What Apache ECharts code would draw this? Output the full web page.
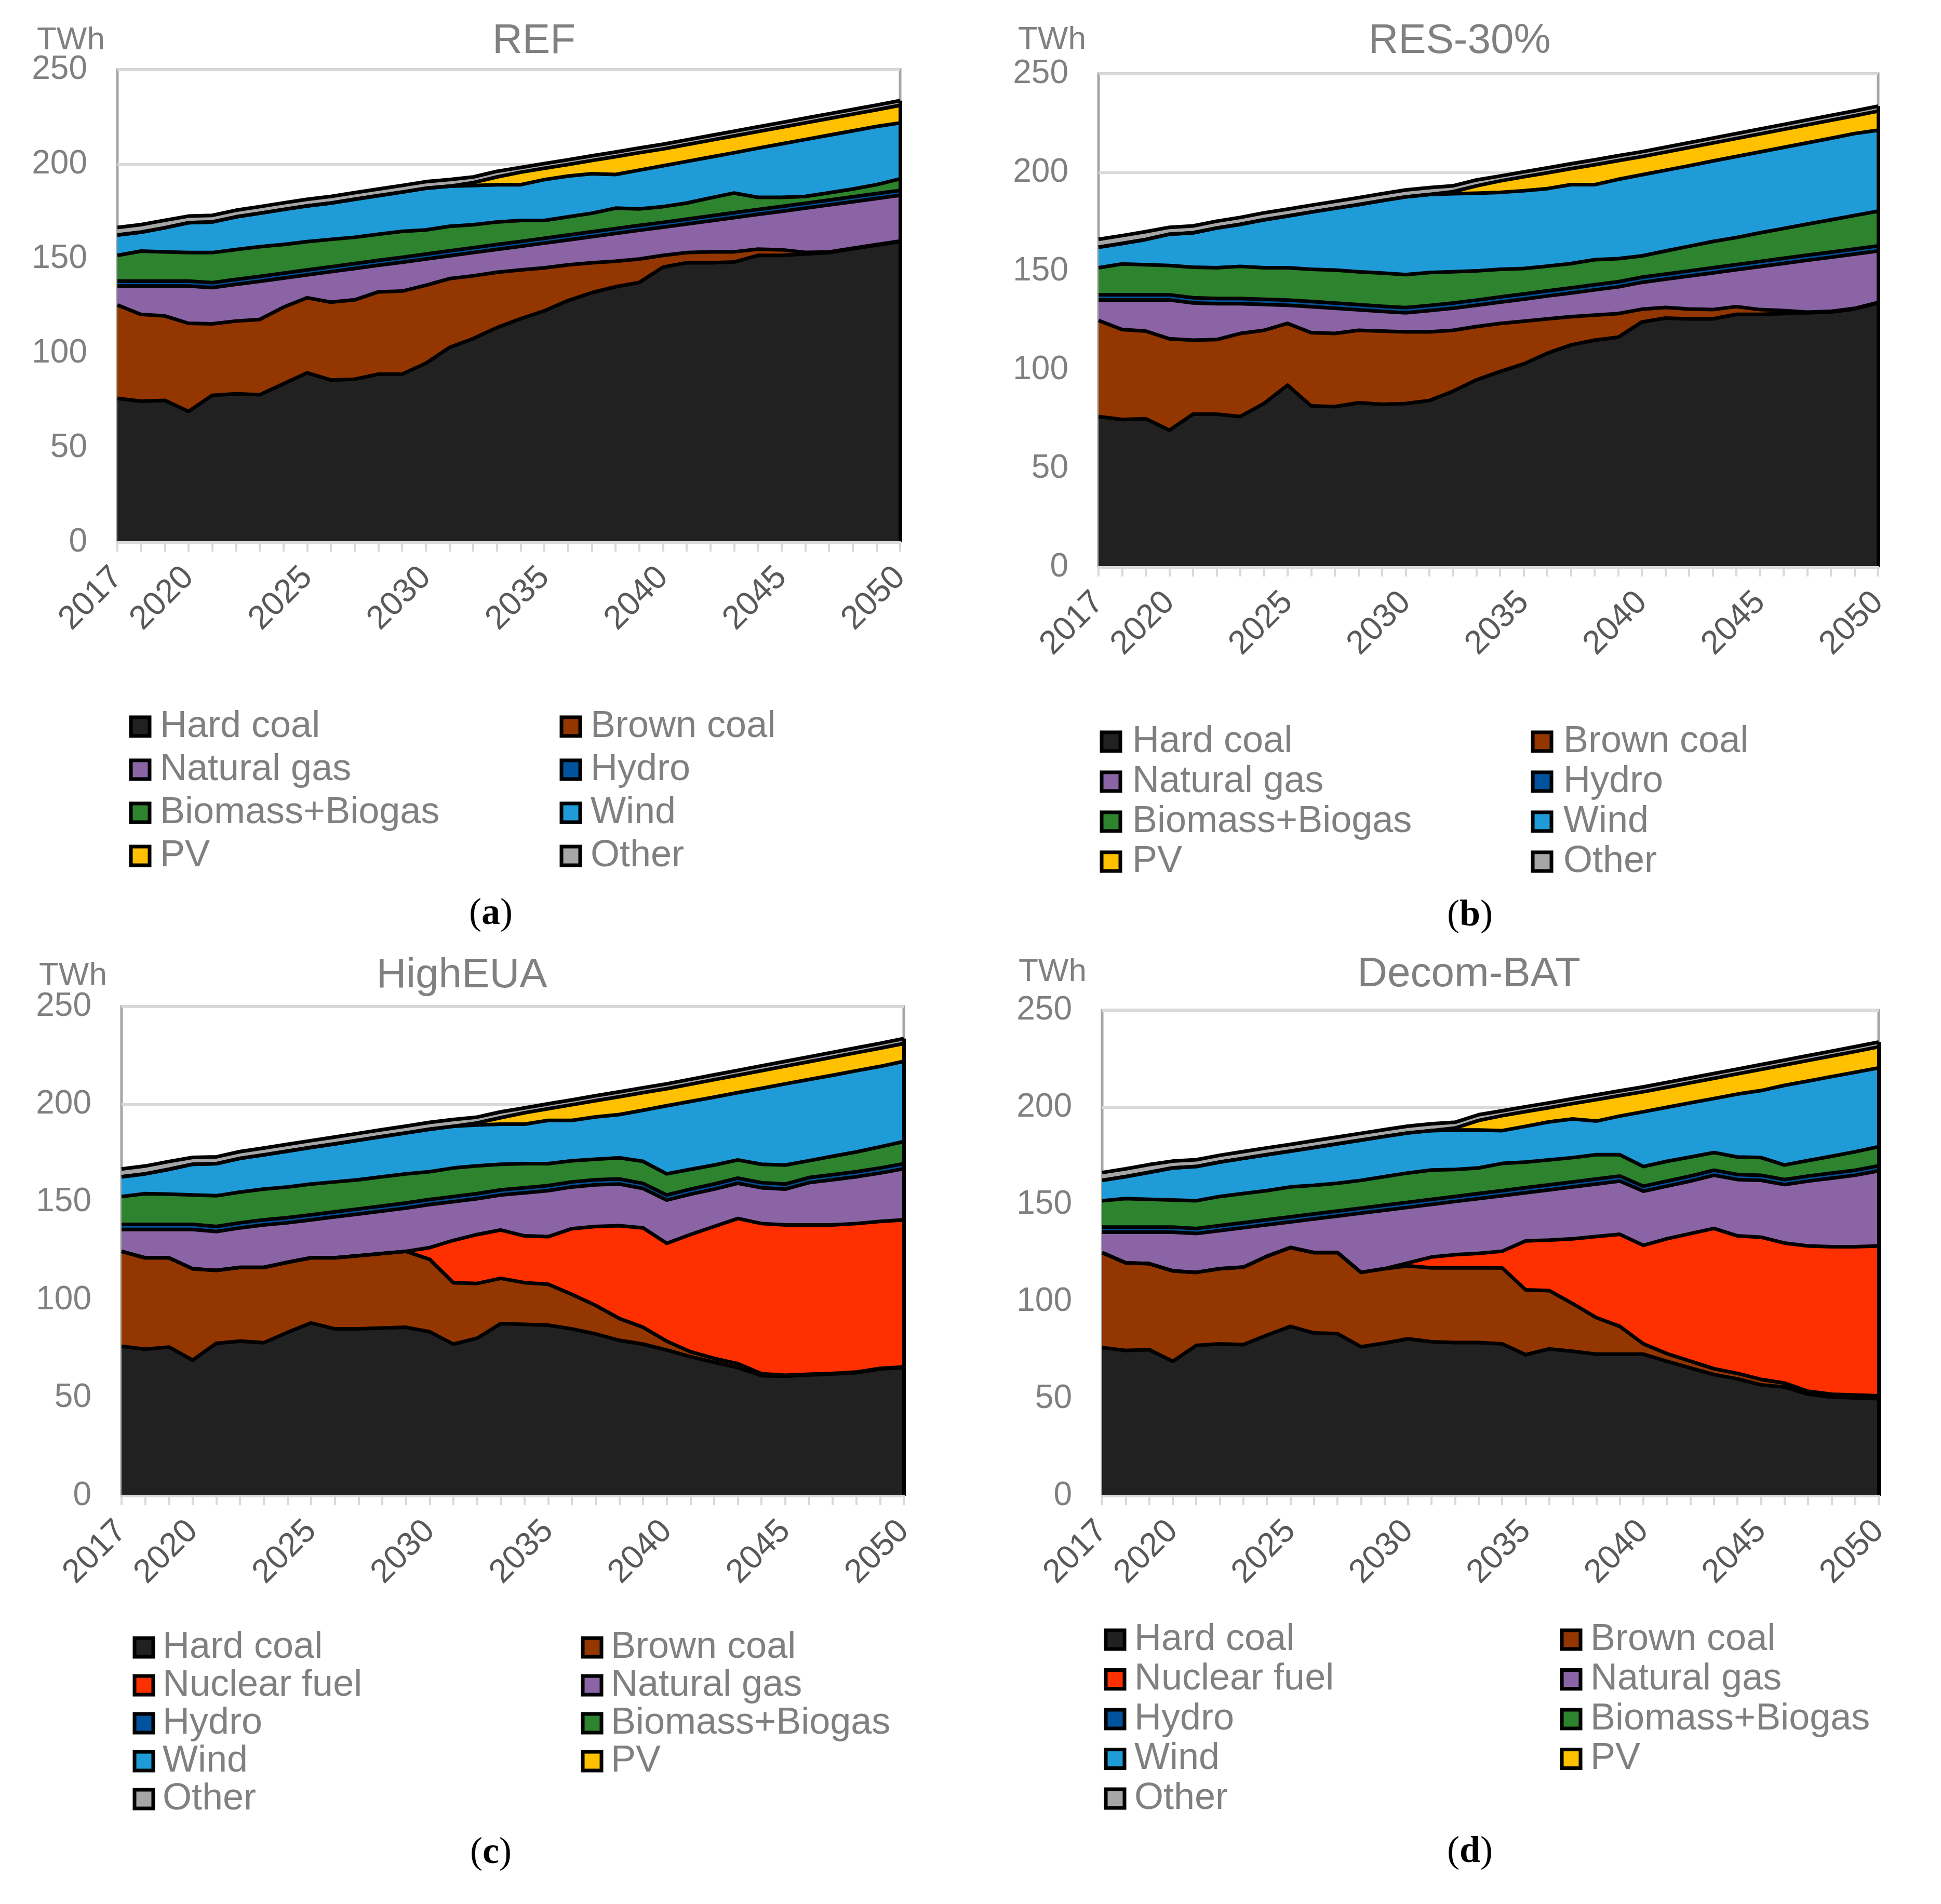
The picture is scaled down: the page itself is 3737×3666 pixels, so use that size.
<!DOCTYPE html>
<html>
<head>
<meta charset="utf-8">
<title>Electricity generation by source - four scenarios</title>
<script src="https://cdn.jsdelivr.net/npm/echarts@6/dist/echarts.min.js"></script>
<style>
  html, body { margin: 0; padding: 0; background: #fff; }
  #chart { width: 3737px; height: 3666px; }
</style>
</head>
<body>
<div id="chart"></div>
<script>
// categories
const years = ['2017','2018','2019','2020','2021','2022','2023','2024','2025','2026','2027','2028','2029','2030','2031','2032','2033',
  '2034','2035','2036','2037','2038','2039','2040','2041','2042','2043','2044','2045','2046','2047','2048','2049','2050'];
const yTicks = [0, 50, 100, 150, 200, 250];

// shared small series (TWh)
const hydro = [2.6,2.6,2.6,2.6,2.6,2.6,2.6,2.6,2.6,2.6,2.6,2.6,2.6,2.6,2.6,2.6,2.6,2.6,2.6,2.6,2.6,2.6,2.6,2.6,2.6,2.6,2.6,2.6,2.6,2.6,2.6,2.6,2.6,2.6];
const other = [4.0,4.0,4.0,3.5,3.5,3.5,3.5,3.5,3.5,3.5,3.5,3.5,3.5,3.5,3.5,3.0,3.0,2.5,2.5,2.5,2.5,2.5,2.5,2.5,2.5,2.5,2.5,2.5,2.5,2.5,2.5,2.5,2.5,2.5];

// (a) REF
const refHard  = [76.1,74.6,75.0,69.2,77.7,78.5,78.0,83.8,89.6,85.8,86.2,88.9,88.9,94.6,103.0,107.7,113.5,118.2,122.4,127.8,132.0,135.1,137.4,145.5,147.8,147.8,148.2,151.7,151.7,152.5,153.2,155.2,157.1,159.0];
const refBrown = [49.4,45.9,44.7,46.6,37.8,38.5,39.8,40.5,39.7,41.2,42.0,43.5,43.9,41.3,36.4,33.2,29.3,25.8,22.7,18.9,15.8,13.5,12.4,6.2,5.4,5.8,5.4,3.3,3.0,0.8,0.3,0.3,0.3,0.3];
const refGas   = [10.0,15.0,15.8,19.7,19.2,19.4,20.2,15.4,12.1,16.1,16.6,14.1,15.3,13.9,12.1,12.3,12.1,12.5,13.1,13.2,13.8,14.7,15.2,14.9,15.1,16.4,18.1,18.4,20.3,23.4,24.9,24.6,24.4,24.2];
const refBio   = [13.6,15.9,15.5,15.1,15.9,15.8,15.7,15.2,15.0,14.5,13.9,13.8,13.7,12.8,13.0,12.1,11.9,11.1,9.4,9.6,9.8,10.8,8.7,8.3,8.5,9.5,10.4,6.4,4.8,3.6,3.8,4.1,4.7,6.1];
const refWind  = [10.8,10.0,12.7,15.8,16.2,17.3,17.7,18.5,18.9,19.2,20.1,20.4,20.8,22.0,21.2,20.8,19.7,18.9,21.6,21.6,20.9,17.8,20.5,21.6,22.0,21.6,21.3,26.0,28.3,30.1,30.5,30.8,30.8,29.6];
const refPV    = [0,0,0,0,0,0,0,0,0,0,0,0,0,0,0,1.5,4.1,6.6,6.0,6.1,7.0,9.4,9.2,8.9,8.9,8.9,8.9,8.8,8.8,8.8,8.8,8.8,8.8,9.3];

// (b) RES-30%
const resHard  = [76.3,74.8,75.2,69.4,77.5,77.5,76.3,82.9,92.2,81.7,81.3,83.3,82.5,82.9,84.4,89.1,94.9,99.1,103.0,108.4,112.6,115.0,116.5,124.2,126.2,125.8,125.8,128.1,128.1,128.5,128.9,129.3,130.8,133.8];
const resBrown = [48.7,45.6,44.4,46.3,37.5,37.8,42.1,37.1,31.3,37.1,37.1,36.7,37.1,36.3,34.8,30.9,27.0,24.4,21.6,17.4,14.3,12.7,12.0,6.5,5.4,5.0,4.7,3.9,2.4,1.5,0.3,0.3,0.3,0.3];
const resGas   = [10.4,15.0,15.8,19.7,18.9,18.2,15.1,13.1,9.2,13.2,12.8,10.4,10.0,9.7,10.8,11.2,10.8,10.8,11.2,11.6,12.0,12.8,13.5,13.6,14.3,16.7,18.6,18.7,21.8,23.9,26.3,27.4,27.5,26.1];
const resBio   = [13.7,15.6,15.2,14.8,15.5,15.6,16.3,16.0,16.4,16.3,16.7,16.7,16.8,16.7,16.7,15.9,14.8,14.0,12.9,12.5,12.3,12.7,11.7,10.8,11.7,12.5,13.3,13.7,14.5,15.1,15.7,16.4,17.0,17.6];
const resWind  = [10.4,10.4,12.8,15.9,17.4,20.1,21.3,24.3,26.2,29.0,31.3,34.0,36.7,39.4,39.5,39.5,39.4,39.0,39.4,39.3,40.0,38.0,40.2,41.1,40.9,40.8,40.8,41.1,41.0,41.1,41.2,41.3,41.5,41.0];
const resPV    = [0,0,0,0,0,0,0,0,0,0,0,0,0,0,0,1.0,3.7,5.8,7.1,8.0,8.1,10.1,9.5,9.2,9.2,9.2,9.1,9.1,9.1,9.1,9.1,9.1,9.0,9.7];

// (c) HighEUA
const euaHard    = [76.4,74.9,76.0,69.3,77.9,79.0,78.2,83.5,88.3,85.3,85.3,85.7,86.1,83.8,77.5,80.5,88.0,87.6,87.2,85.3,82.7,79.4,77.5,74.5,71.1,68.2,65.5,61.4,61.1,61.8,62.2,62.9,64.8,65.5];
const euaBrown   = [48.5,46.7,45.6,46.7,37.3,37.7,38.5,35.8,33.3,36.3,37.4,38.1,38.8,37.0,31.4,28.0,23.1,21.3,20.9,17.6,14.6,11.2,8.6,4.5,2.5,2.0,2.0,1.0,0.5,0.3,0.3,0.3,0.3,0.3];
const euaNuclear = [0,0,0,0,0,0,0,0,0,0,0,0,0,6.0,21.6,25.0,24.7,23.9,24.3,33.6,40.3,47.4,50.8,50.0,59.9,67.4,74.2,76.7,76.8,76.3,75.9,75.9,75.1,75.2];
const euaGas     = [11.2,14.5,14.5,20.1,19.8,20.2,21.7,20.2,19.4,20.9,21.3,21.7,22.1,22.0,19.8,18.3,17.9,22.0,23.5,21.3,21.3,21.3,20.1,22.1,20.6,19.1,18.0,18.3,18.3,21.6,23.1,23.9,24.7,26.1];
const euaBio     = [14.2,15.7,15.4,15.0,15.7,15.7,15.7,15.7,15.7,15.3,14.9,14.9,14.9,14.2,14.6,14.2,13.1,12.3,11.2,10.8,10.5,10.8,11.3,10.8,10.1,9.7,9.3,9.4,9.7,8.6,9.4,10.1,10.8,11.3];
const euaWind    = [10.1,10.1,12.7,15.7,16.4,17.2,17.5,18.3,18.7,19.4,20.2,20.6,20.9,21.7,21.3,20.9,20.5,20.2,22.1,20.6,21.6,22.1,26.1,34.8,34.7,34.7,34.4,38.8,41.5,41.5,41.4,41.5,41.1,41.0];
const euaPV      = [0,0,0,0,0,0,0,0,0,0,0,0,0,0,0,1.0,3.3,5.8,6.0,8.0,8.3,9.1,9.0,8.7,8.8,8.9,8.9,9.0,9.0,9.1,9.2,9.2,9.3,9.1];

// (d) Decom-BAT
const batHard    = [76.3,74.8,75.2,69.2,77.4,78.2,77.8,82.7,87.2,83.8,83.5,76.7,78.6,80.8,79.3,78.9,78.9,78.2,72.6,75.6,74.4,72.9,72.9,72.9,69.2,65.8,62.4,60.2,57.1,56.0,52.3,50.8,50.4,50.0];
const batBrown   = [48.9,45.1,44.3,46.6,37.6,38.7,39.9,40.6,40.6,41.4,41.7,38.3,38.3,37.6,38.0,38.4,38.4,39.1,33.4,30.0,24.5,18.8,14.3,5.3,4.0,3.5,3.0,2.8,2.8,2.0,1.5,1.5,1.5,1.5];
const batNuclear = [0,0,0,0,0,0,0,0,0,0,0,0,0,1.5,5.6,6.8,7.5,8.6,25.2,26.0,33.4,41.8,47.4,50.7,59.1,65.7,72.2,70.8,73.2,72.1,74.8,75.9,76.3,77.1];
const batGas     = [10.5,15.8,16.2,19.9,20.0,19.6,20.3,16.2,13.2,17.3,18.8,30.5,30.1,28.6,27.1,27.4,28.2,28.6,24.8,25.9,26.7,27.0,27.4,27.9,27.1,27.0,27.4,29.0,29.3,30.1,33.4,35.3,36.8,38.7];
const batBio     = [13.6,14.7,14.3,14.0,14.3,15.0,15.0,15.0,15.4,14.7,14.3,14.3,14.7,15.1,15.1,13.9,13.2,14.0,13.2,12.8,12.5,12.5,11.0,10.1,10.2,9.8,9.1,9.0,9.1,7.5,8.0,8.7,9.5,9.8];
const batWind    = [10.5,11.3,13.9,16.5,17.6,17.7,18.1,18.5,18.4,19.5,20.3,20.7,20.7,20.6,20.3,20.3,19.5,16.9,18.4,19.6,19.9,17.3,19.9,28.2,27.8,27.9,27.8,32.4,34.5,41.0,40.9,41.0,40.9,40.6];
const batPV      = [0,0,0,0,0,0,0,0,0,0,0,0,0,0,0,1.0,4.9,7.7,7.6,7.3,7.9,11.0,10.5,10.3,10.3,10.3,10.4,10.4,10.9,10.5,10.6,10.6,10.7,10.8];

const colors = {
  'Hard coal': '#212121',
  'Brown coal': '#943600',
  'Nuclear fuel': '#FF3000',
  'Natural gas': '#8A64A4',
  'Hydro': '#00539C',
  'Biomass+Biogas': '#2E832E',
  'Wind': '#1F9CD8',
  'PV': '#FFC000',
  'Other': '#A6A6A6'
};

const FONT = "'Liberation Sans', Arial, sans-serif";
const GREY = '#808080';
const EDGE = 7;

const panels = [
  {
    title: 'REF', letter: 'a',
    grid: { left: 226, top: 134, width: 1507, height: 910 },
    titleAt: [1028, 80], unitAt: [71, 78], captionAt: [945, 1760],
    names: ['Hard coal', 'Brown coal', 'Natural gas', 'Hydro', 'Biomass+Biogas', 'Wind', 'PV', 'Other'],
    values: [refHard, refBrown, refGas, hydro, refBio, refWind, refPV, other],
    legendCols: [['Hard coal', 'Natural gas', 'Biomass+Biogas', 'PV'], ['Brown coal', 'Hydro', 'Wind', 'Other']],
    legendLeft: [248.5, 1077.5], legendTop: 1363, legendGap: 11, textPad: 15
  },
  {
    title: 'RES-30%', letter: 'b',
    grid: { left: 2115, top: 142, width: 1501, height: 950 },
    titleAt: [2810, 80], unitAt: [1960, 77], captionAt: [2830, 1763],
    names: ['Hard coal', 'Brown coal', 'Natural gas', 'Hydro', 'Biomass+Biogas', 'Wind', 'PV', 'Other'],
    values: [resHard, resBrown, resGas, hydro, resBio, resWind, resPV, other],
    legendCols: [['Hard coal', 'Natural gas', 'Biomass+Biogas', 'PV'], ['Brown coal', 'Hydro', 'Wind', 'Other']],
    legendLeft: [2117.5, 2947.5], legendTop: 1392, legendGap: 5, textPad: 18
  },
  {
    title: 'HighEUA', letter: 'c',
    grid: { left: 234, top: 1938, width: 1506, height: 942 },
    titleAt: [889, 1879], unitAt: [75, 1879], captionAt: [945, 3568],
    names: ['Hard coal', 'Brown coal', 'Nuclear fuel', 'Natural gas', 'Hydro', 'Biomass+Biogas', 'Wind', 'PV', 'Other'],
    values: [euaHard, euaBrown, euaNuclear, euaGas, hydro, euaBio, euaWind, euaPV, other],
    legendCols: [['Hard coal', 'Nuclear fuel', 'Hydro', 'Wind', 'Other'], ['Brown coal', 'Natural gas', 'Biomass+Biogas', 'PV']],
    legendLeft: [255.5, 1118.5], legendTop: 3136, legendGap: 1, textPad: 13
  },
  {
    title: 'Decom-BAT', letter: 'd',
    grid: { left: 2122, top: 1945, width: 1495, height: 935 },
    titleAt: [2828, 1877], unitAt: [1961, 1872], captionAt: [2830, 3566],
    names: ['Hard coal', 'Brown coal', 'Nuclear fuel', 'Natural gas', 'Hydro', 'Biomass+Biogas', 'Wind', 'PV', 'Other'],
    values: [batHard, batBrown, batNuclear, batGas, hydro, batBio, batWind, batPV, other],
    legendCols: [['Hard coal', 'Nuclear fuel', 'Hydro', 'Wind', 'Other'], ['Brown coal', 'Natural gas', 'Biomass+Biogas', 'PV']],
    legendLeft: [2125.5, 3003.5], legendTop: 3121, legendGap: 4.5, textPad: 14
  }
];

const grids = [], xAxes = [], yAxes = [], series = [], legends = [], graphics = [];

panels.forEach((p, k) => {
  grids.push(Object.assign({ show: true, borderColor: '#A6A6A6', borderWidth: 5, backgroundColor: '#fff' }, p.grid));

  xAxes.push({
    gridIndex: k, type: 'category', data: years, boundaryGap: false,
    axisLine: { show: true, lineStyle: { color: '#D9D9D9', width: 5 } },
    axisTick: { show: true, interval: 0, length: 18, lineStyle: { color: '#D9D9D9', width: 4 } },
    axisLabel: {
      rotate: 45, margin: 58, color: '#595959', fontSize: 64, fontFamily: FONT,
      interval: (i, v) => i === 0 || Number(v) % 5 === 0
    },
    splitLine: { show: false }, z: 5
  });

  yAxes.push({
    gridIndex: k, type: 'value', min: 0, max: 250, interval: 50,
    axisLine: { show: false }, axisTick: { show: false },
    axisLabel: { color: GREY, fontSize: 64, fontFamily: FONT, margin: 58, customValues: yTicks },
    splitLine: { show: true, lineStyle: { color: '#D9D9D9', width: 5 } }
  });

  // filled areas (no outline)
  p.names.forEach((name, i) => {
    series.push({
      name: name, type: 'line', xAxisIndex: k, yAxisIndex: k,
      stack: 'area' + k, data: p.values[i],
      showSymbol: false, symbol: 'none', silent: true,
      color: colors[name], itemStyle: { color: colors[name] },
      lineStyle: { width: 0, opacity: 0 },
      areaStyle: { color: colors[name], opacity: 1 },
      z: 2
    });
  });

  // black outlines drawn over every fill
  const lastTotal = p.values.reduce((s, arr) => s + arr[arr.length - 1], 0);
  p.names.forEach((name, i) => {
    const s = {
      name: 'outline-' + k + '-' + i, type: 'line', xAxisIndex: k, yAxisIndex: k,
      stack: 'edge' + k, data: p.values[i],
      showSymbol: false, symbol: 'none', silent: true,
      lineStyle: { color: '#000', width: EDGE, join: 'round' },
      z: 3
    };
    if (i === p.names.length - 1) {
      s.markLine = {
        silent: true, symbol: ['none', 'none'], label: { show: false },
        lineStyle: { color: '#000', width: EDGE, type: 'solid' },
        data: [[{ coord: [years[years.length - 1], 0] }, { coord: [years[years.length - 1], lastTotal] }]]
      };
    }
    series.push(s);
  });

  p.legendCols.forEach((col, c) => {
    legends.push({
      orient: 'vertical', left: p.legendLeft[c], top: p.legendTop, padding: 0,
      itemWidth: 36, itemHeight: 36, itemGap: p.legendGap, icon: 'rect',
      selectedMode: false,
      itemStyle: { borderColor: '#000', borderWidth: 7 },
      textStyle: { color: GREY, fontSize: 72, fontFamily: FONT, lineHeight: 72, padding: [0, 0, 0, p.textPad] },
      data: col.map(n => ({ name: n, itemStyle: { color: colors[n], borderColor: '#000', borderWidth: 7 } }))
    });
  });

  graphics.push({
    type: 'text', x: p.titleAt[0], y: p.titleAt[1],
    style: { text: p.title, fill: GREY, fontSize: 80, fontFamily: FONT, align: 'center', verticalAlign: 'middle' }
  });
  graphics.push({
    type: 'text', x: p.unitAt[0], y: p.unitAt[1],
    style: { text: 'TWh', fill: GREY, fontSize: 62, fontFamily: FONT, align: 'left', verticalAlign: 'middle' }
  });
  graphics.push({
    type: 'text', x: p.captionAt[0], y: p.captionAt[1],
    style: {
      text: '{p|(}{b|' + p.letter + '}{p|)}', align: 'center', verticalAlign: 'middle',
      rich: {
        p: { fontSize: 72, fontFamily: "'Liberation Serif', 'Times New Roman', serif", fill: '#000' },
        b: { fontSize: 72, fontFamily: "'Liberation Serif', 'Times New Roman', serif", fontWeight: 'bold', fill: '#000' }
      }
    }
  });
});

const chart = echarts.init(document.getElementById('chart'));
chart.setOption({
  animation: false,
  backgroundColor: '#fff',
  textStyle: { fontFamily: FONT },
  grid: grids,
  xAxis: xAxes,
  yAxis: yAxes,
  legend: legends,
  series: series,
  graphic: graphics
});
</script>
</body>
</html>
